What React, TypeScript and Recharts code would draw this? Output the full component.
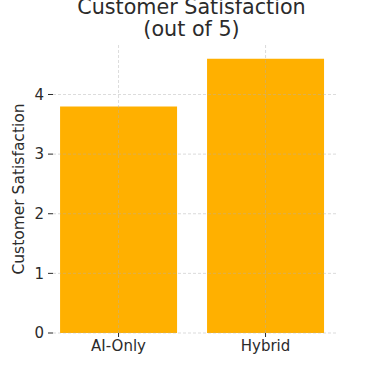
import { Bar, BarChart, ReferenceLine, XAxis, YAxis } from "recharts"

const categories = ["AI-Only", "Hybrid"]
const satisfaction = [3.8, 4.6]
const yTicks = [0, 1, 2, 3, 4]

const data = categories.map((name, i) => ({ x: i, name, value: satisfaction[i] }))

const font = "'DejaVu Sans', sans-serif"
const textColor = "#2b2b2b"
const gridStroke = "#b0b0b0"

export default function App() {
  return (
    <div style={{ position: "absolute", left: 0, top: 0, width: 375, height: 375, background: "#fff" }}>
      <BarChart
        width={375}
        height={375}
        data={data}
        margin={{ top: 45, right: 37, bottom: 0, left: 0 }}
      >
        <XAxis
          dataKey="x"
          type="number"
          domain={[-0.446, 1.493]}
          ticks={[0, 1]}
          allowDataOverflow
          tickFormatter={(v: number) => categories[v] ?? ""}
          axisLine={false}
          tickLine={{ stroke: textColor }}
          tickSize={4}
          tickMargin={3}
          height={42}
          tick={{ fill: textColor, fontSize: 15, fontFamily: font }}
        />
        <YAxis
          type="number"
          domain={[0, 4.83]}
          ticks={yTicks}
          allowDataOverflow
          axisLine={false}
          tickLine={{ stroke: textColor }}
          tickSize={5}
          tickMargin={4}
          width={53}
          tick={{ fill: textColor, fontSize: 15, fontFamily: font }}
        />
        <Bar dataKey="value" fill="#FFB000" barSize={117} isAnimationActive={false} />
        {yTicks.map((t) => (
          <ReferenceLine
            key={`h${t}`}
            y={t}
            stroke={gridStroke}
            strokeOpacity={0.45}
            strokeDasharray="3 2"
            strokeWidth={1}
          />
        ))}
        {data.map((d) => (
          <ReferenceLine
            key={`v${d.x}`}
            x={d.x}
            stroke={gridStroke}
            strokeOpacity={0.45}
            strokeDasharray="3 2"
            strokeWidth={1}
          />
        ))}
      </BarChart>
      <svg
        width={375}
        height={375}
        style={{ position: "absolute", left: 0, top: 0, pointerEvents: "none" }}
      >
        <text x={191.5} y={13.5} textAnchor="middle" fontSize={20.7} fontFamily={font} fill={textColor}>
          Customer Satisfaction
        </text>
        <text x={191.5} y={36} textAnchor="middle" fontSize={20.7} fontFamily={font} fill={textColor}>
          (out of 5)
        </text>
        <text
          x={19}
          y={189}
          transform="rotate(-90 19 189)"
          textAnchor="middle"
          dominantBaseline="central"
          fontSize={15.5}
          fontFamily={font}
          fill={textColor}
        >
          Customer Satisfaction
        </text>
      </svg>
    </div>
  )
}
